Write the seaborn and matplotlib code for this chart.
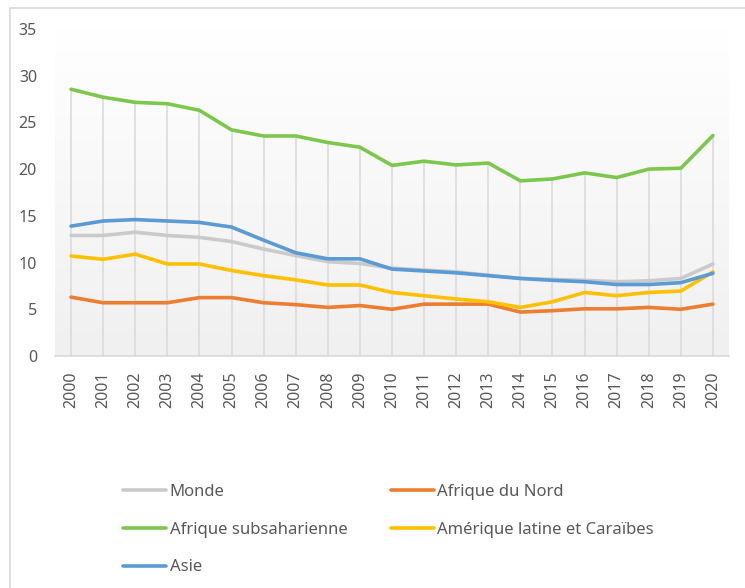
import numpy as np
import pandas as pd
import matplotlib
matplotlib.use("Agg")
import matplotlib.pyplot as plt
from matplotlib.patches import Rectangle
from matplotlib.lines import Line2D
import seaborn as sns

years = list(range(2000, 2021))

monde = [12.9, 12.9, 13.25, 12.9, 12.7, 12.25, 11.45, 10.75, 10.1, 9.9,
         9.4, 9.2, 9.0, 8.65, 8.3, 8.2, 8.1, 7.95, 8.05, 8.3, 9.85]
afrique_nord = [6.3, 5.7, 5.7, 5.7, 6.25, 6.25, 5.7, 5.5, 5.2, 5.4,
                5.0, 5.55, 5.55, 5.55, 4.7, 4.85, 5.05, 5.05, 5.2, 5.0, 5.55]
afrique_sub = [28.55, 27.7, 27.15, 27.0, 26.3, 24.2, 23.55, 23.55, 22.85, 22.35,
               20.4, 20.85, 20.45, 20.65, 18.75, 18.95, 19.6, 19.1, 20.0, 20.1, 23.6]
amerique = [10.7, 10.35, 10.9, 9.85, 9.85, 9.15, 8.6, 8.15, 7.6, 7.6,
            6.8, 6.45, 6.1, 5.8, 5.2, 5.8, 6.8, 6.45, 6.8, 6.95, 9.0]
asie = [13.9, 14.45, 14.6, 14.45, 14.3, 13.8, 12.4, 11.05, 10.4, 10.4,
        9.3, 9.1, 8.9, 8.6, 8.3, 8.1, 7.95, 7.65, 7.65, 7.85, 8.85]

series = {
    "Monde": monde,
    "Afrique du Nord": afrique_nord,
    "Afrique subsaharienne": afrique_sub,
    "Amérique latine et Caraïbes": amerique,
    "Asie": asie,
}
colors = {
    "Monde": "#cacaca",
    "Afrique du Nord": "#ed7d31",
    "Afrique subsaharienne": "#7cc84c",
    "Amérique latine et Caraïbes": "#ffc000",
    "Asie": "#5b9bd5",
}

rows = []
for name, vals in series.items():
    for i, v in enumerate(vals):
        rows.append({"idx": i, "annee": years[i], "region": name, "valeur": v})
df = pd.DataFrame(rows)

sns.set_style("white")
plt.rcParams["font.family"] = ["Noto Sans", "DejaVu Sans"]
txt = "#595959"

fig = plt.figure(figsize=(7.45, 5.88), dpi=100)
ax = fig.add_axes([55 / 745, 1 - 356 / 588, (729 - 55) / 745, (356 - 29) / 588])

# gradient background of the plot area
grad = np.linspace(1.0, 0.0, 256).reshape(-1, 1)
cmap = matplotlib.colors.LinearSegmentedColormap.from_list("g", ["#f0f0f0", "#ffffff"])
ax.imshow(grad, cmap=cmap, aspect="auto", extent=[0, 1, 0, 1],
          transform=ax.transAxes, zorder=0, vmin=0, vmax=1)

# drop lines from the highest series down to the axis
top = df.groupby("idx")["valeur"].max()
ax.vlines(top.index, 0, top.values, color="#d9d9d9", lw=1.1, zorder=1)

sns.lineplot(data=df, x="idx", y="valeur", hue="region", hue_order=list(series),
             palette=colors, lw=2.6, ax=ax, legend=False, zorder=3)

ax.set_xlim(-0.5, len(years) - 0.5)
ax.set_ylim(0, 35)
ax.set_yticks(range(0, 36, 5))
ax.set_xticks(range(len(years)))
ax.set_xticklabels([str(y) for y in years], rotation=90)
ax.tick_params(axis="both", length=0, colors=txt, labelsize=11.5)
ax.tick_params(axis="y", pad=13)
ax.tick_params(axis="x", pad=11)
ax.set_xlabel("")
ax.set_ylabel("")
for s in ["top", "right", "left"]:
    ax.spines[s].set_visible(False)
ax.spines["bottom"].set_color("#d9d9d9")
ax.spines["bottom"].set_linewidth(1.2)

# outer chart border
fig.add_artist(Rectangle((10 / 745, -0.05), 1.2, 1 - 8 / 588 + 0.05,
                         transform=fig.transFigure, fill=False,
                         edgecolor="#d9d9d9", lw=1.2))

order = ["Monde", "Afrique subsaharienne", "Asie",
         "Afrique du Nord", "Amérique latine et Caraïbes"]
handles = [Line2D([], [], color=colors[n], lw=2.6) for n in order]
fig.legend(handles, order, ncol=2, loc="upper left",
           bbox_to_anchor=(108 / 745, 1 - 469 / 588), frameon=False,
           fontsize=12, labelcolor=txt, handlelength=2.6, handletextpad=0.2,
           columnspacing=2.6, labelspacing=1.3)

fig.savefig("out.png", dpi=100)
